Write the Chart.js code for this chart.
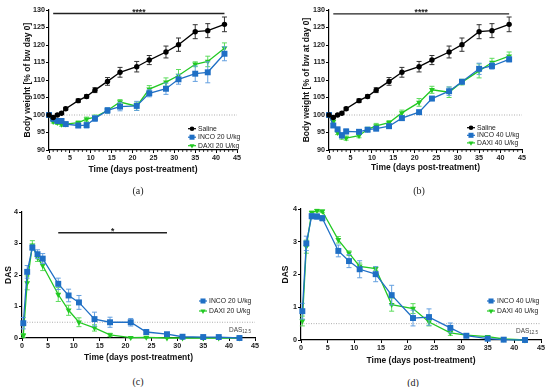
<!DOCTYPE html>
<html>
<head>
<meta charset="utf-8">
<script src="https://cdn.jsdelivr.net/npm/chart.js@4.4.1/dist/chart.umd.min.js"></script>
<style>
  body { margin: 0; background: #fff; width: 550px; height: 387px; position: relative; overflow: hidden; }
  .panel { position: absolute; width: 275px; height: 185px; }
  .tag { position: absolute; font-family: "Liberation Serif", "Times New Roman", serif; font-size: 10px; color: #222; transform: translate(-50%, -50%); }
</style>
</head>
<body>
<div class="panel" style="left:0;top:0"><canvas id="chartA"></canvas></div>
<div class="panel" style="left:275px;top:0"><canvas id="chartB"></canvas></div>
<div class="panel" style="left:0;top:190px"><canvas id="chartC"></canvas></div>
<div class="panel" style="left:275px;top:190px"><canvas id="chartD"></canvas></div>
<div class="tag" style="left:138px;top:190px">(a)</div>
<div class="tag" style="left:419px;top:190px">(b)</div>
<div class="tag" style="left:138px;top:381px">(c)</div>
<div class="tag" style="left:413px;top:382px">(d)</div>
<script>
// days of measurement
const bwDays  = [0, 1, 2, 3, 4, 7, 9, 11, 14, 17, 21, 24, 28, 31, 35, 38, 42];
const dasDays = [0.25, 1, 2, 3, 4, 7, 9, 11, 14, 17, 21, 24, 28, 31, 35, 38, 42];

// body weight, % of day 0 (mean and SEM)
const salineBw     = [100, 99.3, 100, 100.5, 101.8, 104.1, 105.3, 107.1, 109.6, 112.2, 113.8, 115.7, 118, 120.1, 123.8, 124.1, 125.9];
const salineBwErr  = [0, 0.3, 0.3, 0.3, 0.4, 0.5, 0.5, 0.7, 1.1, 1.4, 1.5, 1.3, 1.7, 1.9, 2.0, 2.0, 2.1];
const inco20Bw     = [100, 98.9, 98.3, 98.3, 97.4, 97, 97.1, 99, 101.3, 102.4, 102.6, 106.2, 107.5, 110.2, 111.8, 112.2, 117.5];
const inco20BwErr  = [0, 0.4, 0.5, 0.5, 0.6, 0.6, 0.8, 0.8, 0.8, 1.2, 1.3, 1.0, 1.6, 1.4, 2.2, 3.0, 2.0];
const daxi20Bw     = [100, 98.1, 97.8, 97.3, 97.4, 97.8, 98.8, 99.4, 101.3, 103.7, 102.5, 107.4, 109.4, 111.3, 114.5, 115.3, 119.1];
const daxi20BwErr  = [0, 0.4, 0.5, 0.5, 0.5, 0.5, 0.6, 0.6, 0.8, 0.7, 1.2, 1.0, 1.2, 1.7, 0.7, 1.5, 1.5];
const inco40Bw     = [100, 97, 95.9, 94.2, 95.3, 95.2, 95.8, 96.1, 96.8, 99.1, 100.8, 104.7, 106.8, 109.5, 113.2, 114, 115.9];
const inco40BwErr  = [0, 0.5, 0.6, 0.8, 0.7, 0.6, 0.6, 0.6, 0.6, 0.6, 0.6, 0.6, 1.2, 0.6, 1.6, 0.9, 0.7];
const daxi40Bw     = [100, 98.1, 95, 93.8, 93.4, 94.1, 95.9, 96.9, 97.8, 100.6, 103.6, 107.2, 106.5, 109.4, 112.6, 115, 116.8];
const daxi40BwErr  = [0, 0.5, 0.6, 0.7, 0.6, 0.6, 0.6, 0.7, 0.6, 0.8, 1.1, 1.0, 1.5, 0.8, 2.0, 1.2, 1.2];

// digit abduction score (mean and SEM)
const inco20Das    = [0.47, 2.1, 2.87, 2.66, 2.52, 1.72, 1.35, 1.13, 0.6, 0.5, 0.5, 0.19, 0.12, 0.04, 0.03, 0.03, 0];
const inco20DasErr = [0.18, 0.2, 0.08, 0.14, 0.16, 0.18, 0.2, 0.22, 0.22, 0.16, 0.12, 0.08, 0.04, 0.02, 0.02, 0.02, 0];
const daxi20Das    = [0.08, 1.75, 2.95, 2.55, 2.3, 1.38, 0.88, 0.5, 0.32, 0.1, 0.01, 0.02, 0, 0, 0, 0, 0];
const daxi20DasErr = [0.06, 0.22, 0.14, 0.12, 0.16, 0.22, 0.16, 0.14, 0.1, 0.05, 0.01, 0.02, 0, 0, 0, 0, 0];
const inco40Das    = [0.88, 2.95, 3.78, 3.77, 3.72, 2.72, 2.41, 2.16, 2.01, 1.37, 0.67, 0.7, 0.37, 0.13, 0.04, 0.01, 0];
const inco40DasErr = [0.24, 0.22, 0.08, 0.08, 0.08, 0.18, 0.2, 0.26, 0.23, 0.3, 0.24, 0.25, 0.15, 0.05, 0.02, 0.01, 0];
const daxi40Das    = [0.58, 2.85, 3.89, 3.95, 3.93, 3.06, 2.65, 2.25, 2.18, 1.08, 0.96, 0.55, 0.22, 0.15, 0.1, 0.03, 0];
const daxi40DasErr = [0.15, 0.2, 0.05, 0.04, 0.04, 0.1, 0.07, 0.1, 0.05, 0.2, 0.15, 0.12, 0.08, 0.04, 0.03, 0.02, 0];

// significance bars: [from day, to day, level, label]
const sigA = [1, 42, 129, '****'];
const sigB = [1, 42, 128.9, '****'];
const sigC = [7, 28, 3.34, '*'];

const bwTicks  = [90, 95, 100, 105, 110, 115, 120, 125, 130];
const dasTicks = [0, 1, 2, 3, 4];

const BLUE = '#1f6fc5', BLUE_ERR = '#64a0e0';
const GREEN = '#22c922', GREEN_ERR = '#5edc5e';
const FONT = '"Liberation Sans", Arial, sans-serif';

function drawMarker(ctx, style, x, y, r) {
    ctx.beginPath();
    if (style === 'circle') {
        ctx.arc(x, y, r, 0, Math.PI * 2);
    } else if (style === 'rect') {
        const s = r * Math.SQRT1_2;
        ctx.rect(x - s, y - s, 2 * s, 2 * s);
    } else {
        ctx.moveTo(x, y + r);
        ctx.lineTo(x - r * 0.866, y - r / 2);
        ctx.lineTo(x + r * 0.866, y - r / 2);
        ctx.closePath();
    }
    ctx.fill();
}

// SEM whiskers, drawn just before each dataset
const errorBars = {
    id: 'errorBars',
    beforeDatasetDraw(chart, args) {
        const ds = chart.data.datasets[args.index];
        if (!ds.err) return;
        const yS = chart.scales.y, ctx = chart.ctx;
        ctx.save();
        ctx.strokeStyle = ds.errColor;
        ctx.lineWidth = 1;
        args.meta.data.forEach((pt, i) => {
            const e = ds.err[i];
            if (!e) return;
            const top = yS.getPixelForValue(ds.data[i].y + e);
            const bot = yS.getPixelForValue(ds.data[i].y - e);
            ctx.beginPath();
            ctx.moveTo(pt.x, top); ctx.lineTo(pt.x, bot);
            ctx.moveTo(pt.x - 2.5, top); ctx.lineTo(pt.x + 2.5, top);
            ctx.moveTo(pt.x - 2.5, bot); ctx.lineTo(pt.x + 2.5, bot);
            ctx.stroke();
        });
        ctx.restore();
    }
};

// reference line, significance bar, DAS label, minor ticks
const marks = {
    id: 'marks',
    beforeDatasetsDraw(chart, args, o) {
        const {ctx, chartArea: a, scales: {x, y}} = chart;
        ctx.save();
        const ry = y.getPixelForValue(o.ref);
        ctx.strokeStyle = '#9a9a9a';
        ctx.lineWidth = 0.8;
        ctx.setLineDash([1, 1.5]);
        ctx.beginPath(); ctx.moveTo(a.left, ry); ctx.lineTo(a.right, ry); ctx.stroke();
        ctx.setLineDash([]);
        if (o.minor) {
            ctx.strokeStyle = '#000';
            ctx.lineWidth = 0.8;
            for (let d = 1; d < 45; d++) {
                if (d % 5 === 0) continue;
                const px = x.getPixelForValue(d);
                ctx.beginPath(); ctx.moveTo(px, a.bottom); ctx.lineTo(px, a.bottom + 2); ctx.stroke();
            }
        }
        if (o.sig) {
            const [from, to, lvl, txt] = o.sig;
            const sy = y.getPixelForValue(lvl);
            ctx.strokeStyle = '#222';
            ctx.lineWidth = 1.4;
            ctx.beginPath(); ctx.moveTo(x.getPixelForValue(from), sy); ctx.lineTo(x.getPixelForValue(to), sy); ctx.stroke();
            ctx.fillStyle = '#222';
            ctx.font = 'bold 8.5px ' + FONT;
            ctx.textAlign = 'center';
            ctx.textBaseline = 'alphabetic';
            ctx.fillText(txt, x.getPixelForValue((from + to) / 2), sy + 1.5);
        }
        if (o.das) {
            ctx.fillStyle = '#444';
            ctx.textBaseline = 'middle';
            ctx.textAlign = 'left';
            ctx.font = '6.5px ' + FONT;
            const w = ctx.measureText('DAS').width;
            ctx.fillText('DAS', o.das[0], o.das[1]);
            ctx.font = '4.5px ' + FONT;
            ctx.fillText('12.5', o.das[0] + w, o.das[1] + 2);
        }
        ctx.restore();
    }
};

const miniLegend = {
    id: 'miniLegend',
    afterDraw(chart, args, o) {
        const ctx = chart.ctx;
        ctx.save();
        chart.data.datasets.forEach((ds, i) => {
            const ly = o.y + i * o.gap;
            ctx.strokeStyle = ds.borderColor;
            ctx.lineWidth = 1.2;
            ctx.beginPath(); ctx.moveTo(o.x - 4, ly); ctx.lineTo(o.x + 4, ly); ctx.stroke();
            ctx.fillStyle = ds.backgroundColor;
            drawMarker(ctx, ds.pointStyle, o.x, ly, ds.pointRadius * 0.85);
            ctx.fillStyle = '#222';
            ctx.font = '6.8px ' + FONT;
            ctx.textAlign = 'left';
            ctx.textBaseline = 'middle';
            ctx.fillText(ds.label, o.x + 6, ly);
        });
        ctx.restore();
    }
};

function series(label, days, vals, errs, color, errColor, style, r) {
    return {
        label,
        data: days.map((d, i) => ({ x: d, y: vals[i] })),
        err: errs,
        errColor,
        borderColor: color,
        backgroundColor: color,
        borderWidth: 1.3,
        pointStyle: style,
        pointRadius: r,
        pointHoverRadius: r,
        pointRotation: style === 'triangle' ? 180 : 0,
        pointBorderWidth: 0,
        tension: 0,
        clip: false,
    };
}

function makeChart(id, datasets, c) {
    return new Chart(document.getElementById(id), {
        type: 'line',
        data: { datasets },
        options: {
            responsive: true,
            maintainAspectRatio: false,
            animation: false,
            events: [],
            layout: { padding: { left: 0, right: c.right, top: c.top, bottom: 0 } },
            plugins: {
                legend: { display: false },
                tooltip: { enabled: false },
                miniLegend: c.legend,
                marks: c.marks,
            },
            scales: {
                x: {
                    type: 'linear', min: 0, max: 45,
                    afterFit: s => { s.height = c.xh; },
                    ticks: { stepSize: 5, color: '#222', padding: 1, font: { family: FONT, size: 7.2, weight: 'bold' } },
                    grid: { drawOnChartArea: false, tickLength: 3, color: '#000', tickWidth: 1 },
                    border: { color: '#000', width: 1.2 },
                    title: { display: true, text: 'Time (days post-treatment)', color: '#111',
                             font: { family: FONT, size: 8.5, weight: 'bold' }, padding: { top: 0, bottom: c.xtp } },
                },
                y: {
                    min: c.ticks[0], max: c.ticks[c.ticks.length - 1],
                    afterFit: s => { s.width = c.yw; },
                    afterBuildTicks: s => { s.ticks = c.ticks.map(v => ({ value: v })); },
                    ticks: { color: '#222', padding: 1, font: { family: FONT, size: 7.2, weight: 'bold' } },
                    grid: { drawOnChartArea: false, tickLength: 3, color: '#000', tickWidth: 1 },
                    border: { color: '#000', width: 1.2 },
                    title: { display: true, text: c.ytitle, color: '#111',
                             font: { family: FONT, size: 8.5, weight: 'bold' }, padding: { top: c.ytp, bottom: 0 } },
                },
            },
        },
        plugins: [errorBars, marks, miniLegend],
    });
}

makeChart('chartA', [
    series('Saline', bwDays, salineBw, salineBwErr, '#000', '#333', 'circle', 2.7),
    series('INCO 20 U/kg', bwDays, inco20Bw, inco20BwErr, BLUE, BLUE_ERR, 'rect', 4.2),
    series('DAXI 20 U/kg', bwDays, daxi20Bw, daxi20BwErr, GREEN, GREEN_ERR, 'triangle', 3.4),
], { right: 38, top: 10, xh: 35, yw: 49, xtp: 9.9, ytp: 22.9, ticks: bwTicks,
     ytitle: 'Body weight [% of bw day 0]',
     legend: { x: 192, y: 128.7, gap: 8.5 },
     marks: { ref: 100, minor: true, sig: sigA } });

makeChart('chartB', [
    series('Saline', bwDays, salineBw, salineBwErr, '#000', '#333', 'circle', 2.7),
    series('INCO 40 U/kg', bwDays, inco40Bw, inco40BwErr, BLUE, BLUE_ERR, 'rect', 4.2),
    series('DAXI 40 U/kg', bwDays, daxi40Bw, daxi40BwErr, GREEN, GREEN_ERR, 'triangle', 3.4),
], { right: 28, top: 10, xh: 35, yw: 54, xtp: 11.9, ytp: 26.9, ticks: bwTicks,
     ytitle: 'Body weight [% of bw at day 0]',
     legend: { x: 196, y: 127.7, gap: 7.6 },
     marks: { ref: 100, minor: true, sig: sigB } });

makeChart('chartC', [
    series('INCO 20 U/kg', dasDays, inco20Das, inco20DasErr, BLUE, BLUE_ERR, 'rect', 4.2),
    series('DAXI 20 U/kg', dasDays, daxi20Das, daxi20DasErr, GREEN, GREEN_ERR, 'triangle', 3.4),
], { right: 20, top: 22, xh: 37, yw: 22, xtp: 11.9, ytp: 3.9, ticks: dasTicks,
     ytitle: 'DAS',
     legend: { x: 203, y: 111, gap: 10 },
     marks: { ref: 0.5, minor: false, sig: sigC, das: [229, 140] } });

makeChart('chartD', [
    series('INCO 40 U/kg', dasDays, inco40Das, inco40DasErr, BLUE, BLUE_ERR, 'rect', 4.2),
    series('DAXI 40 U/kg', dasDays, daxi40Das, daxi40DasErr, GREEN, GREEN_ERR, 'triangle', 3.4),
], { right: 9, top: 19, xh: 35, yw: 26, xtp: 8.9, ytp: 5.9, ticks: dasTicks,
     ytitle: 'DAS',
     legend: { x: 216, y: 111, gap: 10 },
     marks: { ref: 0.5, minor: false, sig: null, das: [241, 141] } });
</script>
</body>
</html>
